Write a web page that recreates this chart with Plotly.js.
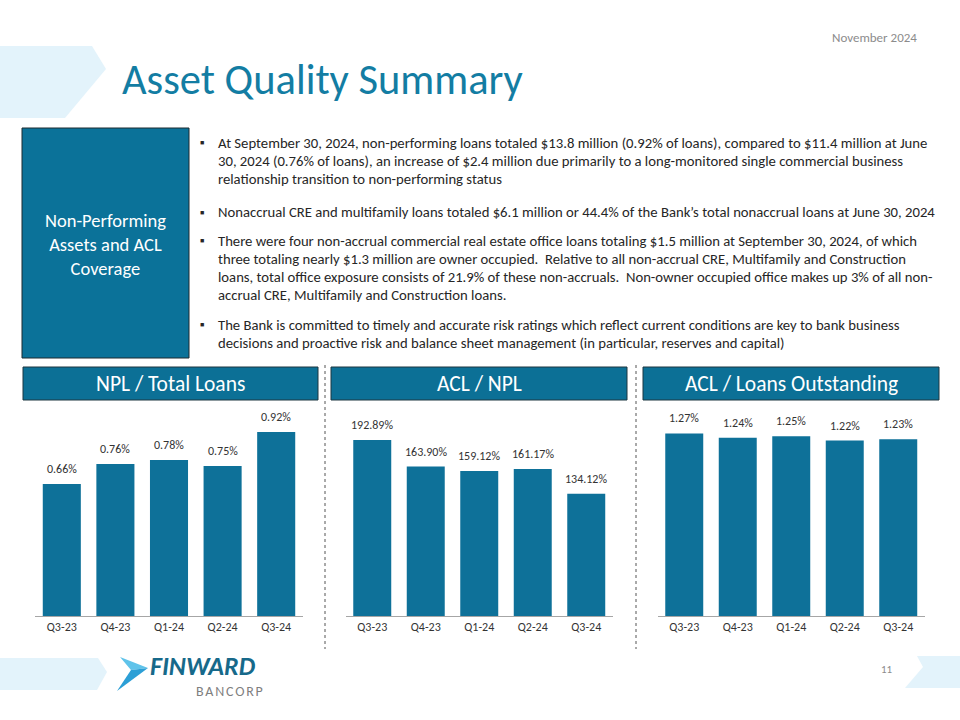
<!DOCTYPE html>
<html>
<head>
<meta charset="utf-8">
<script src="https://cdn.plot.ly/plotly-3.0.1.min.js"></script>
<style>
html,body{margin:0;padding:0;background:#fff;}
#chart{width:960px;height:720px;}
</style>
</head>
<body>
<div id="chart"></div>
<script>
// ---- data ----
const quarters = ["Q3-23", "Q4-23", "Q1-24", "Q2-24", "Q3-24"];
const nplTotalLoans = [0.66, 0.76, 0.78, 0.75, 0.92];
const aclNpl = [192.89, 163.90, 159.12, 161.17, 134.12];
const aclLoans = [1.27, 1.24, 1.25, 1.22, 1.23];
const chartTitles = ["NPL / Total Loans", "ACL / NPL", "ACL / Loans Outstanding"];
const pageTitle = "Asset Quality Summary";
const dateText = "November 2024";
const pageNumber = "11";
const boxText = "Non-Performing<br>Assets and ACL<br>Coverage";
const bulletLines = [
  ["At September 30, 2024, non-performing loans totaled $13.8 million (0.92% of loans), compared to $11.4 million at June",
   "30, 2024 (0.76% of loans), an increase of $2.4 million due primarily to a long-monitored single commercial business",
   "relationship transition to non-performing status"],
  ["Nonaccrual CRE and multifamily loans totaled $6.1 million or 44.4% of the Bank\u2019s total nonaccrual loans at June 30, 2024"],
  ["There were four non-accrual commercial real estate office loans totaling $1.5 million at September 30, 2024, of which",
   "three totaling nearly $1.3 million are owner occupied.  Relative to all non-accrual CRE, Multifamily and Construction",
   "loans, total office exposure consists of 21.9% of these non-accruals.  Non-owner occupied office makes up 3% of all non-",
   "accrual CRE, Multifamily and Construction loans."],
  ["The Bank is committed to timely and accurate risk ratings which reflect current conditions are key to bank business",
   "decisions and proactive risk and balance sheet management (in particular, reserves and capital)"]
];

// ---- helpers (pixel -> paper) ----
const W = 960, H = 720;
const px = x => x / W;
const py = y => 1 - y / H;
const FONT = "Carlito, Calibri, Lato, 'Open Sans', sans-serif";
const BAR = "#0e7199";
const HEAD = "#0c7096";

const series = [nplTotalLoans, aclNpl, aclLoans];
const fmt = v => v.toFixed(2) + "%";
const ranges = [[0, 1.0], [0, 219.3], [0, 1.391]];
const xDomains = [[px(35), px(303)], [px(345.5), px(613)], [px(657.5), px(925)]];
const yDomain = [py(616), py(416)];

const data = [];
const layout = {
  width: W, height: H,
  margin: {l: 0, r: 0, t: 0, b: 0},
  paper_bgcolor: "#ffffff", plot_bgcolor: "rgba(0,0,0,0)",
  showlegend: false, bargap: 0.29,
  font: {family: FONT, color: "#333333"},
  shapes: [], annotations: []
};

series.forEach((vals, i) => {
  const sfx = i === 0 ? "" : String(i + 1);
  data.push({
    type: "bar", x: quarters, y: vals,
    xaxis: "x" + sfx, yaxis: "y" + sfx,
    marker: {color: BAR, line: {width: 0}},
    hoverinfo: "skip"
  });
  layout["xaxis" + sfx] = {
    domain: xDomains[i], anchor: "y" + sfx,
    showline: true, linecolor: "#a6a6a6", linewidth: 1,
    showgrid: false, zeroline: false, ticks: "",
    tickfont: {family: FONT, size: 12, color: "#333333"},
    fixedrange: true
  };
  layout["yaxis" + sfx] = {
    domain: yDomain, anchor: "x" + sfx, range: ranges[i],
    visible: false, showgrid: false, zeroline: false, fixedrange: true
  };
  vals.forEach((v, k) => {
    layout.annotations.push({
      xref: "x" + sfx, yref: "y" + sfx, x: quarters[k], y: v,
      text: fmt(v), showarrow: false, yanchor: "bottom", yshift: 6,
      font: {family: FONT, size: 12, color: "#333333"}
    });
  });
});

// ---- decorations ----
const S = layout.shapes, A = layout.annotations;
function poly(pts, color) {
  const d = pts.map((p, j) => (j ? "L" : "M") + px(p[0]) + "," + py(p[1])).join(" ") + " Z";
  S.push({type: "path", xref: "paper", yref: "paper", path: d, fillcolor: color, line: {width: 0}, layer: "below"});
}
poly([[0, 46], [92, 46], [106, 69], [65, 118], [0, 118]], "#e3f3fb");
poly([[0, 658], [98, 658], [107, 672], [97, 690], [0, 690]], "#e3f3fb");
poly([[917, 656], [960, 656], [960, 688], [905, 688], [923, 667]], "#e3f3fb");

function rect(x0, y0, x1, y1, fill, lc) {
  S.push({type: "rect", xref: "paper", yref: "paper", x0: px(x0), x1: px(x1), y0: py(y1), y1: py(y0),
    fillcolor: fill, line: {color: lc, width: 1}});
}
rect(22, 128, 189, 358, "#0b7299", "#1d2a30");
rect(23, 367, 318, 400, HEAD, "#1d3640");
rect(331, 367, 627, 400, HEAD, "#1d3640");
rect(643, 367, 939, 400, HEAD, "#1d3640");

[325, 636].forEach(x => S.push({type: "line", xref: "paper", yref: "paper",
  x0: px(x), x1: px(x), y0: py(365), y1: py(649), line: {color: "#555555", width: 1, dash: "dot"}}));

// logo arrow
poly([[120, 657], [148, 668], [131, 670]], "#5fc3ea");
poly([[131, 670], [148, 668], [117, 691]], "#2c9fd6");

// ---- texts ----
function txt(x, y, t, size, color, anchor, extra) {
  A.push(Object.assign({xref: "paper", yref: "paper", x: px(x), y: py(y), text: t, showarrow: false,
    xanchor: anchor || "left", yanchor: "middle", font: {family: FONT, size: size, color: color}}, extra || {}));
}
txt(120, 79, pageTitle, 42.5, "#137da3");
txt(919, 37, dateText, 13, "#8c8c8c", "right");
txt(895, 669, pageNumber, 11, "#8c8c8c", "right");
txt(105.5, 244, boxText, 18.5, "#ffffff", "center", {align: "center"});

const chartCenters = [170.5, 479, 791];
chartTitles.forEach((t, i) => txt(chartCenters[i], 384, t, 21.5, "#ffffff", "center"));

const lineYs = [[143, 161, 179], [212], [241, 259, 277, 295], [325, 343]];
bulletLines.forEach((lines, b) => {
  txt(202, lineYs[b][0], "\u25a0", 7, "#262626", "center");
  lines.forEach((ln, j) => txt(216, lineYs[b][j], ln, 14.7, "#262626", "left"));
});

txt(149, 666, "<i><b>FINWARD</b></i>", 26, "#17698a", "left", {borderpad: 0});
txt(195, 691, "B\u200AA\u200AN\u200AC\u200AO\u200AR\u200AP", 14, "#7f7f7f", "left", {borderpad: 0});

Plotly.newPlot("chart", data, layout, {staticPlot: true, displayModeBar: false});
</script>
</body>
</html>
